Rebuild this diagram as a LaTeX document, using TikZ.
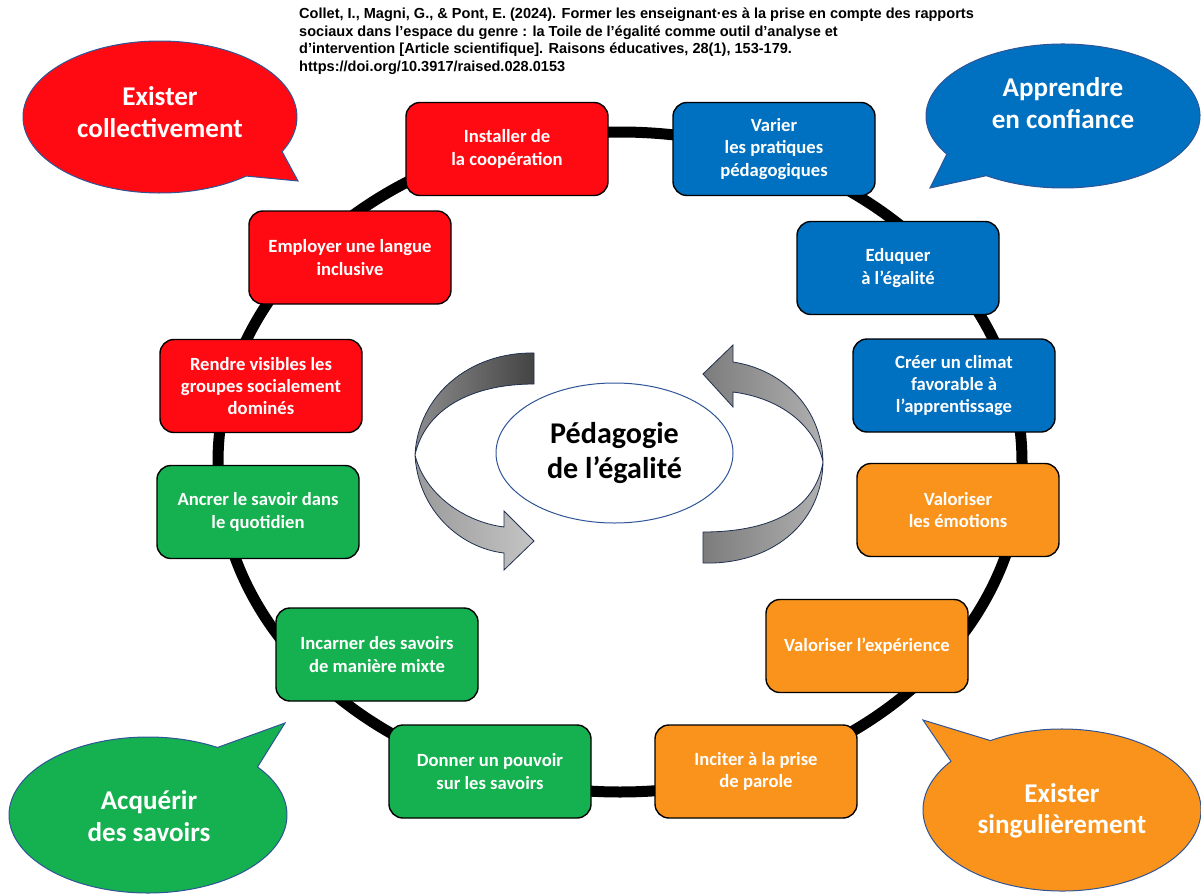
\documentclass[tikz,border=0pt]{standalone}
\usepackage{fontspec}
\usetikzlibrary{shapes.geometric}
\setmainfont{Carlito}
\newfontfamily\citefont{Liberation Sans}
\definecolor{cred}{HTML}{FF0A12}
\definecolor{cblue}{HTML}{0070C0}
\definecolor{corange}{HTML}{F9931C}
\definecolor{cgreen}{HTML}{15B04F}
\definecolor{cline}{HTML}{2F5597}
\definecolor{arrowline}{HTML}{1F2F50}
\definecolor{gA}{HTML}{444444}
\definecolor{gB}{HTML}{8C8C8C}
\definecolor{gC}{HTML}{9A9A9A}
\definecolor{gD}{HTML}{C4C4C4}
\definecolor{gE}{HTML}{7C7C7C}
\definecolor{gF}{HTML}{B0B0B0}
\tikzset{
  box/.style={draw=black, line width=1.4bp, rounded corners=14bp,
    minimum width=202bp, minimum height=93bp, align=center, text=white,
    font=\bfseries\fontsize{18.7}{22.5}\selectfont, inner sep=0pt},
  redbox/.style={box, fill=cred},
  bluebox/.style={box, fill=cblue},
  orangebox/.style={box, fill=corange},
  greenbox/.style={box, fill=cgreen},
  bubble/.style={draw=cline, line width=1bp},
  bubbletext/.style={text=white, align=center, inner sep=0pt,
    font=\bfseries\fontsize{27.2}{31.5}\selectfont},
  band/.style={draw=arrowline, line width=0.8bp},
}
\begin{document}
\begin{tikzpicture}[x=1bp,y=-1bp]
\useasboundingbox (0,0) rectangle (1201,894);
% ring
\draw[line width=11bp] (620,462) ellipse [x radius=402, y radius=330];
% boxes
\node[redbox]    (b1)  at (507,149)   {Installer de\\la coopération};
\node[bluebox]   (b2)  at (774,149)   {Varier\\les pratiques\\pédagogiques};
\node[bluebox]   (b3)  at (898,268)   {Eduquer\\à l’égalité};
\node[bluebox]   (b4)  at (954,385.5) {Créer un climat\\favorable à\\l’apprentissage};
\node[orangebox] (b5)  at (958,510)   {Valoriser\\les émotions};
\node[orangebox] (b6)  at (867,646)   {Valoriser l’expérience};
\node[orangebox] (b7)  at (756,771.5) {Inciter à la prise\\de parole};
\node[greenbox]  (b8)  at (490,771.5) {Donner un pouvoir\\sur les savoirs};
\node[greenbox]  (b9)  at (377,654.5) {Incarner des savoirs\\de manière mixte};
\node[greenbox]  (b10) at (258,512)   {Ancrer le savoir dans\\le quotidien};
\node[redbox]    (b11) at (261,386)   {Rendre visibles les\\groupes socialement\\dominés};
\node[redbox]    (b12) at (350,257.5) {Employer une langue\\inclusive};
% speech bubbles
\filldraw[bubble, fill=cred] (160,117) ++(51:137 and 76)
  arc[start angle=51, end angle=387, x radius=137, y radius=76] -- (298,181) -- cycle;
\filldraw[bubble, fill=cblue] (1063,116) ++(148:137 and 72)
  arc[start angle=148, end angle=484, x radius=137, y radius=72] -- (930,188) -- cycle;
\filldraw[bubble, fill=cgreen] (148,815) ++(-38:139 and 78)
  arc[start angle=-38, end angle=300, x radius=139, y radius=78] -- (285,723) -- cycle;
\filldraw[bubble, fill=corange] (1062,810) ++(239:139 and 81)
  arc[start angle=239, end angle=577, x radius=139, y radius=81] -- (923,720) -- cycle;
\node[bubbletext] (t1) at (160,112) {Exister\\collectivement};
\node[bubbletext] (t2) at (1063,103) {Apprendre\\en confiance};
\node[bubbletext] (t3) at (149,816) {Acquérir\\des savoirs};
\node[bubbletext] (t4) at (1062,811) {Exister\\singulièrement};
% curved arrows
\shadedraw[band, left color=gB, right color=gA]
  (534,353) .. controls (470,352) and (418,395) .. (415,455)
  .. controls (425,410) and (470,384) .. (534,384) -- cycle;
\shadedraw[band, left color=gC, right color=gD]
  (415,455) .. controls (418,510) and (460,548) .. (504,553)
  -- (504,570) -- (534,541) -- (504,511) -- (504,527)
  .. controls (465,522) and (425,495) .. (415,455) -- cycle;
\shadedraw[band, left color=gE, right color=gF]
  (703,563) .. controls (770,565) and (822,525) .. (823,462)
  .. controls (815,510) and (770,532) .. (703,532) -- cycle;
\shadedraw[band, left color=gE, right color=gF]
  (823,462) .. controls (822,410) and (785,370) .. (733,362)
  -- (733,345) -- (703,374) -- (733,407) -- (733,392)
  .. controls (780,398) and (815,425) .. (823,462) -- cycle;
% centre
\node[draw=cline, line width=1bp, fill=white, ellipse, minimum width=237bp,
  minimum height=140bp, inner sep=0pt] (c) at (614.5,453) {};
\node[align=center, font=\bfseries\fontsize{30.2}{35}\selectfont] (ct) at (614.5,453)
  {Pédagogie\\de l’égalité};
% citation
\node[anchor=north west, align=left, inner sep=0pt,
  font=\citefont\bfseries\fontsize{14.6}{17.5}\selectfont] (cite) at (299,8)
  {Collet, I., Magni, G., \& Pont, E. (2024). Former les enseignant·es à la prise en compte des rapports\\
   sociaux dans l’espace du genre : la Toile de l’égalité comme outil d’analyse et\\
   d’intervention [Article scientifique]. Raisons éducatives, 28(1), 153-179.\\
   https://doi.org/10.3917/raised.028.0153};
\end{tikzpicture}
\end{document}
